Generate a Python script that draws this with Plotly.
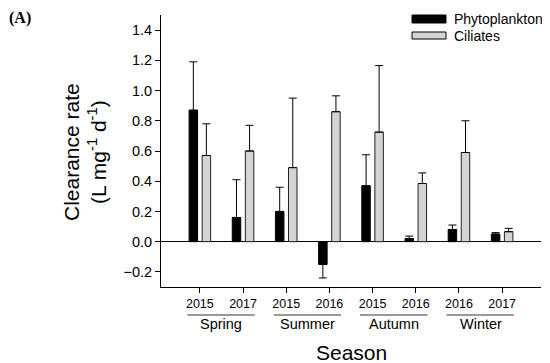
import plotly.graph_objects as go

years = ["2015", "2017", "2015", "2016", "2015", "2016", "2016", "2017"]
seasons = ["Spring", "Summer", "Autumn", "Winter"]
series_names = ["Phytoplankton", "Ciliates"]
phyto = [0.87, 0.16, 0.20, -0.15, 0.37, 0.02, 0.08, 0.05]
phyto_err = [0.32, 0.25, 0.16, 0.09, 0.205, 0.017, 0.03, 0.01]
cil = [0.57, 0.60, 0.49, 0.86, 0.725, 0.385, 0.59, 0.066]
cil_err = [0.21, 0.17, 0.46, 0.105, 0.44, 0.07, 0.21, 0.022]
colors = ["black", "#d4d4d4"]

x = list(range(len(years)))
up_p = [e if v >= 0 else 0 for v, e in zip(phyto, phyto_err)]
dn_p = [e if v < 0 else 0 for v, e in zip(phyto, phyto_err)]

fig = go.Figure()
fig.add_trace(go.Bar(
    x=x, y=phyto, name=series_names[0],
    marker=dict(color=colors[0], line=dict(color="black", width=1)),
    error_y=dict(type="data", symmetric=False, array=up_p, arrayminus=dn_p,
                 color="black", thickness=1, width=4),
))
fig.add_trace(go.Bar(
    x=x, y=cil, name=series_names[1],
    marker=dict(color=colors[1], line=dict(color="#222222", width=1)),
    error_y=dict(type="data", symmetric=False, array=cil_err,
                 arrayminus=[0] * len(cil), color="black", thickness=1, width=4),
))

# page body margin of 8px shifts the figure; coordinates below are figure pixels
W, H = 550, 363
L, R, T, B = 153, 17, 7, 84
PW, PH = W - L - R, H - T - B


def px(fx):
    return (fx - L) / PW


def py(fy):
    return (T + PH - fy) / PH


font = "Liberation Sans, Arial, sans-serif"
fig.update_layout(
    width=W, height=H,
    margin=dict(l=L, r=R, t=T, b=B, autoexpand=False),
    paper_bgcolor="white", plot_bgcolor="white",
    barmode="group", bargap=0.395, bargroupgap=0.35,
    font=dict(family=font, color="black"),
    showlegend=False,
    xaxis=dict(
        range=[-0.9, 7.9], tickmode="array", tickvals=x, ticktext=years,
        showline=True, linecolor="black", linewidth=1,
        ticks="outside", ticklen=5, tickcolor="black",
        tickfont=dict(size=12.5), showgrid=False, zeroline=False,
        automargin=False,
    ),
    yaxis=dict(
        range=[-0.3, 1.5], tickmode="array",
        tickvals=[-0.2, 0.0, 0.2, 0.4, 0.6, 0.8, 1.0, 1.2, 1.4],
        tickformat=".1f",
        showline=True, linecolor="black", linewidth=1,
        ticks="outside", ticklen=5, tickcolor="black",
        tickfont=dict(size=14.5), showgrid=False,
        zeroline=True, zerolinecolor="black", zerolinewidth=1,
        automargin=False,
    ),
)

# manual legend
leg_rows = [(7, 15, 11), (24, 31, 28)]
for (y0, y1, yc), name, col in zip(leg_rows, series_names, colors):
    fig.add_shape(type="rect", xref="paper", yref="paper",
                  x0=px(404), x1=px(438), y0=py(y1), y1=py(y0),
                  fillcolor=col, line=dict(color="black", width=1))
    fig.add_annotation(x=px(444), y=py(yc), xref="paper", yref="paper",
                       xanchor="left", yanchor="middle", text=name,
                       showarrow=False, font=dict(size=14, family=font))

for i, s in enumerate(seasons):
    a = 2 * i
    fig.add_shape(type="line", xref="x", yref="paper",
                  x0=a - 0.29, x1=a + 1.27, y0=-28 / PH, y1=-28 / PH,
                  line=dict(color="#777777", width=1.5))
    fig.add_annotation(x=a + 0.5, y=-37 / PH, xref="x", yref="paper",
                       text=s, showarrow=False, yanchor="middle",
                       font=dict(size=14.5, family=font))

fig.add_annotation(x=0.5, y=0, xref="paper", yref="paper", xanchor="center",
                   yanchor="middle", yshift=-65, text="Season", showarrow=False,
                   font=dict(size=21, family=font))
fig.add_annotation(x=0, y=0.5, xref="paper", yref="paper", xanchor="center",
                   yanchor="middle", xshift=-76, yshift=-1, textangle=-90,
                   text="Clearance rate<br>(L mg<sup>-1</sup> d<sup>-1</sup>)",
                   showarrow=False, font=dict(size=21, family=font))

fig.add_annotation(x=px(-1), y=py(-1), xref="paper", yref="paper", xanchor="left",
                   yanchor="top", text="<b>(A)</b>", showarrow=False,
                   font=dict(size=16, family="Liberation Serif, Times New Roman, serif"))

fig.write_html("out.html")
